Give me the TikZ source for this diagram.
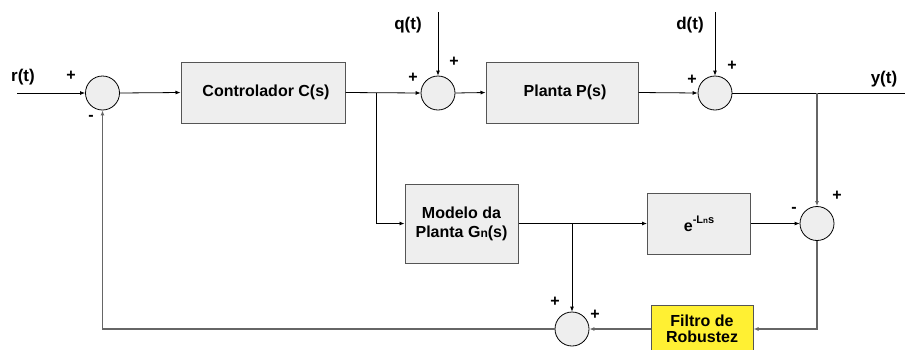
\documentclass[tikz,border=0pt]{standalone}
\usepackage{fontspec}
\setmainfont{Liberation Sans}
\usetikzlibrary{arrows.meta}
\definecolor{boxfill}{HTML}{EEEEEE}
\definecolor{boxline}{HTML}{555555}
\definecolor{wireg}{HTML}{666666}
\definecolor{filtroy}{HTML}{FFF033}
\begin{document}
\begin{tikzpicture}[x=1pt,y=-1pt,
  every node/.style={font=\fontsize{16}{18}\selectfont\bfseries},
  blk/.style={draw=boxline,fill=boxfill,line width=1pt,inner sep=0pt,align=center},
  sumc/.style={draw=black,fill=boxfill,circle,line width=0.8pt,minimum size=34pt,inner sep=0pt},
  sgn/.style={font=\fontsize{16}{18}\selectfont\bfseries,inner sep=0pt},
  lbl/.style={font=\fontsize{17}{19}\selectfont\bfseries},
  arr/.style={draw=black,line width=0.8pt,-{Latex[length=5pt,width=4pt]}},
  wire/.style={draw=black,line width=0.8pt},
  garr/.style={draw=wireg,line width=1.2pt,-{Latex[length=5pt,width=4pt]}}
]
\useasboundingbox (0,0) rectangle (905,349);
% nodes
\node[sumc] (s1) at (102.5,93) {};
\node[blk,minimum width=164pt,minimum height=61pt] (ctrl) at (263,92.5) {\hspace*{6pt}Controlador C(s)};
\node[sumc] (s2) at (438,93) {};
\node[blk,minimum width=152pt,minimum height=61pt] (pl) at (562,92.5) {\hspace*{6pt}Planta P(s)};
\node[sumc] (s3) at (715,93) {};
\node[blk,minimum width=113pt,minimum height=79pt,font=\fontsize{16}{19}\selectfont\bfseries] (mod) at (461.5,223.5) {Modelo da\\Planta G{\fontsize{12}{12}\selectfont n}(s)};
\node[blk,minimum width=103pt,minimum height=61pt] (eb) at (699,223.5) {e\raisebox{0.9ex}{\fontsize{11}{11}\selectfont -L{\fontsize{8}{8}\selectfont n}s}};
\node[sumc] (s4) at (817,223.5) {};
\node[blk,fill=filtroy,minimum width=102pt,minimum height=48pt,font=\fontsize{16}{16}\selectfont\bfseries] (fil) at (702,329) {Filtro de\\Robustez};
\node[sumc] (s5) at (572,329) {};
% signal labels
\node[lbl] (r) at (23,77) {r(t)};
\node[lbl] (q) at (408,25) {q(t)};
\node[lbl] (d) at (690,25) {d(t)};
\node[lbl] (y) at (884,79) {y(t)};
% signs
\node[sgn] (p1) at (71,76) {+};
\node[sgn] (m1) at (91,118) {-};
\node[sgn] (p2a) at (413,78) {+};
\node[sgn] (p2b) at (454,62) {+};
\node[sgn] (p3a) at (692,80) {+};
\node[sgn] (p3b) at (732,66) {+};
\node[sgn] (m4) at (794,210) {-};
\node[sgn] (p4) at (837,196) {+};
\node[sgn] (p5a) at (555,302) {+};
\node[sgn] (p5b) at (595,315) {+};
% coordinates
\coordinate (rin) at (17,93);
\coordinate (qin) at (438,12);
\coordinate (din) at (715,12);
\coordinate (yout) at (905,93);
\coordinate (b1) at (376,93);
\coordinate (b2) at (817,93);
\coordinate (b3) at (572,223.5);
% connectors
\draw[arr] (rin) -- (s1.west);
\draw[arr] (s1.east) -- (ctrl.west);
\draw[arr] (ctrl.east) -- (s2.west);
\draw[arr] (b1) |- (mod.west);
\draw[arr] (qin) -- (s2.north);
\draw[arr] (s2.east) -- (pl.west);
\draw[arr] (pl.east) -- (s3.west);
\draw[arr] (din) -- (s3.north);
\draw[wire] (s3.east) -- (yout);
\draw[garr] (b2) -- (s4.north);
\draw[arr] (mod.east) -- (eb.west);
\draw[arr] (b3) -- (s5.north);
\draw[arr] (eb.east) -- (s4.west);
\draw[garr] (s4.south) |- (fil.east);
\draw[garr] (fil.west) -- (s5.east);
\draw[garr] (s5.west) -| (s1.south);
\end{tikzpicture}
\end{document}
